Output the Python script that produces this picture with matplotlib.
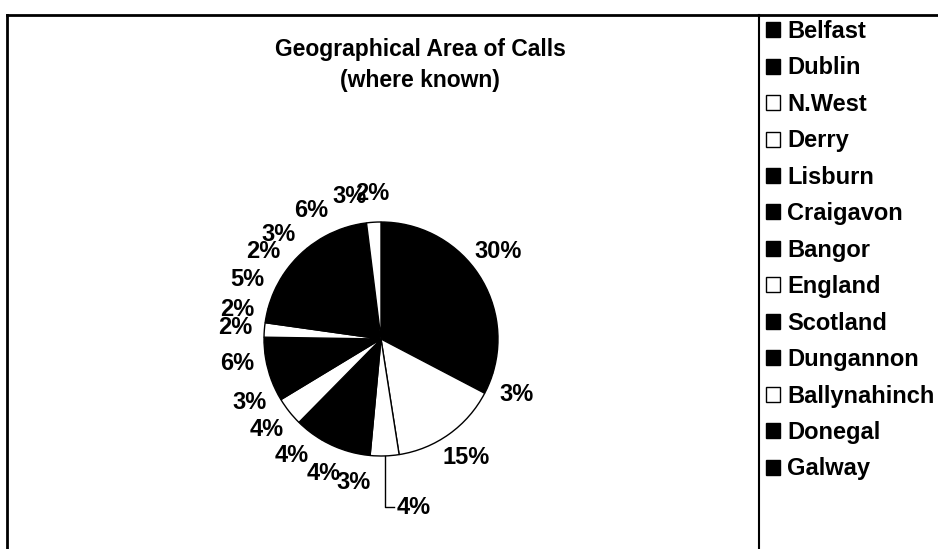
import matplotlib
matplotlib.use("Agg")
import matplotlib.pyplot as plt
from matplotlib.lines import Line2D
import numpy as np

# --------------DATA--------------
areas = ["Belfast", "Dublin", "N.West", "Derry", "Lisburn", "Craigavon",
         "Bangor", "England", "Scotland", "Dungannon", "Ballynahinch",
         "Donegal", "Galway"]
# legend shows only the first 13 areas, the pie has 18 slices
share = [30, 3, 15, 4, 3, 4, 4, 4, 3, 6, 2, 2, 5, 2, 3, 6, 3, 2]
share_labels = ["30%", "3%", "15%", "4%", "3%", "4%", "4%", "4%", "3%", "6%",
                "2%", "2%", "5%", "2%", "3%", "6%", "3%", "2%"]
fills = ["black", "black", "white", "white", "black", "black", "black",
         "white", "black", "black", "white", "black", "black", "black",
         "black", "black", "black", "white"]

plt.rcParams['font.family'] = ['Liberation Sans', 'DejaVu Sans']
W, H = 938, 549
fig = plt.figure(figsize=(W / 100, H / 100), dpi=100)
fig.patch.set_facecolor("white")

# frame lines (scanned box)
def px_line(x0, y0, x1, y1, lw=2.0):
    fig.add_artist(Line2D([x0 / W, x1 / W], [1 - y0 / H, 1 - y1 / H],
                          transform=fig.transFigure, color="black", lw=lw))

px_line(7, 15, W, 15)
px_line(7, 15, 7, H)
px_line(759, 15, 759, H, lw=1.5)

fig.text(420 / W, 1 - 38 / H, "Geographical Area of Calls\n(where known)",
         ha="center", va="top", fontsize=16.5, fontweight="bold",
         linespacing=1.45)

# pie axes
cx, cy, r = 381, 339, 117
ax = fig.add_axes([(cx - r) / W, (H - cy - r) / H, 2 * r / W, 2 * r / H])
wedges, texts = ax.pie(share, labels=share_labels, colors=fills,
                       startangle=90, counterclock=False, labeldistance=1.25,
                       wedgeprops=dict(edgecolor="black", linewidth=1.0),
                       textprops=dict(fontsize=17, fontweight="bold"))
for t in texts:
    t.set_ha("center")
    t.set_va("center")

# leader line for the small slice at the bottom
w = wedges[3]
mid = np.deg2rad((w.theta1 + w.theta2) / 2)
x0, y0 = np.cos(mid), np.sin(mid)
ax.plot([x0, x0, x0 + 0.08], [y0, -1.44, -1.44], color="black", lw=1,
        clip_on=False)
texts[3].set_position((x0 + 0.1, -1.44))
texts[3].set_ha("left")

ax.set_xlim(-1, 1)
ax.set_ylim(-1, 1)
ax.set_aspect("equal")
ax.axis("off")

leg = fig.legend(wedges[:len(areas)], areas, loc="upper left",
                 bbox_to_anchor=(766 / W, 1 - 20 / H), frameon=False,
                 prop=dict(weight="bold", size=17),
                 handlelength=0.6, handleheight=0.6, handletextpad=0.3,
                 labelspacing=0.57, borderpad=0, borderaxespad=0)

fig.savefig("out.png", dpi=100)
